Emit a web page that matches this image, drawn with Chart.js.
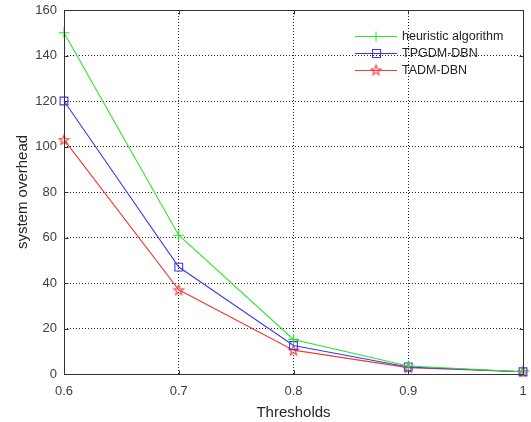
<!DOCTYPE html>
<html>
<head>
<meta charset="utf-8">
<script src="https://cdn.jsdelivr.net/npm/chart.js@4"></script>
<style>
  html, body { margin: 0; padding: 0; background: #fff; }
  #wrap { width: 531px; height: 422px; position: relative; }
</style>
</head>
<body>
<div id="wrap"><canvas id="c" width="531" height="422"></canvas></div>
<script>
// Threshold values on the x axis
const thresholds = [0.6, 0.7, 0.8, 0.9, 1];
const xTickLabels = ['0.6', '0.7', '0.8', '0.9', '1'];
const yTickValues = [0, 20, 40, 60, 80, 100, 120, 140, 160];

// System overhead per method
const seriesNames = ['heuristic algorithm', 'TPGDM-DBN', 'TADM-DBN'];
const heuristicOverhead = [150, 61, 15.2, 3.5, 1];
const tpgdmOverhead = [120, 47, 12.5, 3.1, 1];
const tadmOverhead = [103, 37, 10.5, 2.8, 1];

const FONT = '"Liberation Sans", Arial, Helvetica, sans-serif';
const green = '#2be52b';
const blue = '#3a3af2';
const red = '#f23a3a';

// Outlined five-point star used as the TADM-DBN marker
function makeStar(color) {
  const s = 13, cv = document.createElement('canvas');
  cv.width = s; cv.height = s;
  const g = cv.getContext('2d');
  const cx = s / 2, cy = s / 2 + 0.5, R = 5.2, r = 2.1;
  g.beginPath();
  for (let i = 0; i < 10; i++) {
    const a = -Math.PI / 2 + i * Math.PI / 5;
    const rad = i % 2 === 0 ? R : r;
    const px = cx + rad * Math.cos(a), py = cy + rad * Math.sin(a);
    i === 0 ? g.moveTo(px, py) : g.lineTo(px, py);
  }
  g.closePath();
  g.strokeStyle = color;
  g.lineWidth = 1.1;
  g.stroke();
  return cv;
}
const starMarker = makeStar(red);

function pts(vals) { return thresholds.map((x, i) => ({ x: x, y: vals[i] })); }

// Axes box with inward tick marks
const frame = {
  id: 'frame',
  afterDatasetsDraw(chart) {
    const { ctx, chartArea: a, scales } = chart;
    ctx.save();
    ctx.strokeStyle = '#333';
    ctx.lineWidth = 1;
    const L = Math.round(a.left) + 0.5, R = Math.round(a.right) + 0.5;
    const T = Math.round(a.top) + 0.5, B = Math.round(a.bottom) + 0.5;
    ctx.beginPath();
    ctx.rect(L, T, R - L, B - T);
    thresholds.forEach(v => {
      const x = Math.round(scales.x.getPixelForValue(v)) + 0.5;
      ctx.moveTo(x, B); ctx.lineTo(x, B - 4);
      ctx.moveTo(x, T); ctx.lineTo(x, T + 4);
    });
    yTickValues.forEach(v => {
      const y = Math.round(scales.y.getPixelForValue(v)) + 0.5;
      ctx.moveTo(L, y); ctx.lineTo(L + 4, y);
      ctx.moveTo(R, y); ctx.lineTo(R - 4, y);
    });
    ctx.stroke();
    ctx.restore();
  }
};

// Legend drawn inside the plot, upper right
const innerLegend = {
  id: 'innerLegend',
  afterDraw(chart) {
    const { ctx } = chart;
    const x0 = 355, x1 = 397, tx = 402;
    const rows = [36, 53, 70];
    ctx.save();
    chart.data.datasets.forEach((ds, i) => {
      const y = rows[i] + 0.5;
      ctx.strokeStyle = ds.borderColor;
      ctx.lineWidth = 1;
      ctx.beginPath();
      ctx.moveTo(x0, y); ctx.lineTo(x1, y);
      ctx.stroke();
      const mx = (x0 + x1) / 2;
      if (ds.pointStyle === 'cross') {
        ctx.beginPath();
        ctx.moveTo(mx, y - 5); ctx.lineTo(mx, y + 5);
        ctx.moveTo(mx - 5, y); ctx.lineTo(mx + 5, y);
        ctx.stroke();
      } else if (ds.pointStyle === 'rect') {
        ctx.strokeRect(Math.round(mx - 4) + 0.5, Math.round(y - 4.5) + 0.5, 8, 8);
      } else {
        ctx.drawImage(ds.pointStyle, mx - 6.5, y - 7);
      }
      ctx.fillStyle = '#222';
      ctx.font = '12.5px ' + FONT;
      ctx.textBaseline = 'middle';
      ctx.textAlign = 'left';
      ctx.fillText(ds.label, tx, y + 0.5);
    });
    ctx.restore();
  }
};

const grid = {
  color: '#222',
  lineWidth: 1,
  drawTicks: false,
};

new Chart(document.getElementById('c'), {
  type: 'line',
  data: {
    datasets: [
      { label: seriesNames[0], data: pts(heuristicOverhead), borderColor: green, backgroundColor: 'transparent',
        pointStyle: 'cross', pointRadius: 5.5, pointBorderWidth: 1.1, pointBorderColor: green, borderWidth: 1.1 },
      { label: seriesNames[1], data: pts(tpgdmOverhead), borderColor: blue, backgroundColor: 'transparent',
        pointStyle: 'rect', pointRadius: 5.5, pointBorderWidth: 1.1, pointBorderColor: blue, borderWidth: 1.1 },
      { label: seriesNames[2], data: pts(tadmOverhead), borderColor: red, backgroundColor: 'transparent',
        pointStyle: starMarker, pointRadius: 6, borderWidth: 1.1 },
    ]
  },
  options: {
    responsive: false,
    animation: false,
    clip: false,
    layout: { padding: { top: 10, right: 8, left: 0, bottom: 0 } },
    plugins: {
      legend: { display: false },
      tooltip: { enabled: false },
    },
    elements: { line: { tension: 0 } },
    scales: {
      x: {
        type: 'linear',
        min: thresholds[0], max: thresholds[thresholds.length - 1],
        afterBuildTicks(scale) { scale.ticks = thresholds.map(v => ({ value: v })); },
        afterFit(scale) { scale.height = 48; scale.paddingLeft = 0; scale.paddingRight = 0; },
        border: { display: false, dash: [1, 2] },
        grid: grid,
        ticks: {
          color: '#404040', font: { family: FONT, size: 13 }, padding: 10, maxRotation: 0,
          callback: (v) => { const i = thresholds.indexOf(v); return i >= 0 ? xTickLabels[i] : ''; }
        },
        title: { display: true, text: 'Thresholds', color: '#262626', font: { family: FONT, size: 15 }, padding: { top: 0, bottom: 0 } }
      },
      y: {
        type: 'linear',
        min: yTickValues[0], max: yTickValues[yTickValues.length - 1],
        afterBuildTicks(scale) { scale.ticks = yTickValues.map(v => ({ value: v })); },
        afterFit(scale) { scale.width = 64; scale.paddingTop = 0; scale.paddingBottom = 0; },
        border: { display: false, dash: [1, 2] },
        grid: grid,
        ticks: { color: '#404040', font: { family: FONT, size: 13 }, padding: 7 },
        title: { display: true, text: 'system overhead', color: '#262626', font: { family: FONT, size: 15 }, padding: { top: 14, bottom: 0 } }
      }
    }
  },
  plugins: [frame, innerLegend]
});
</script>
</body>
</html>
